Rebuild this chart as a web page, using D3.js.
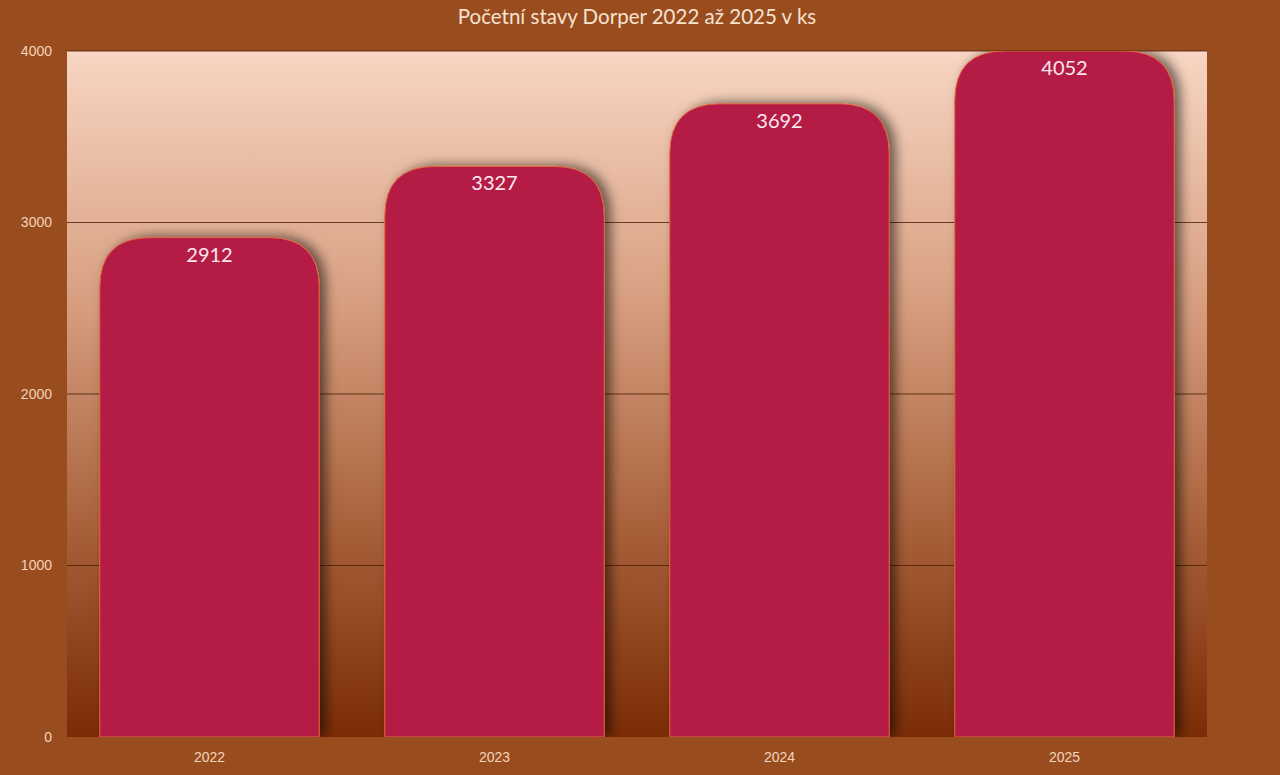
<!DOCTYPE html>
<html><head><meta charset="utf-8">
<script src="https://cdn.jsdelivr.net/npm/d3@7"></script>
<style>
html,body{margin:0;padding:0;background:#994d1f;}
svg{display:block;font-family:Lato,"Open Sans",sans-serif;}
</style></head>
<body>
<svg id="chart" width="1280" height="775"></svg>
<script>
const title = "Početní stavy Dorper 2022 až 2025 v ks";
const categories = ["2022","2023","2024","2025"];
const values = [2912,3327,3692,4052];
const yTicks = [0,1000,2000,3000,4000];
const yMax = 4000;

const W=1280,H=775;
const m={left:67,right:73,top:51,bottom:38};
const svg=d3.select("#chart");
const defs=svg.append("defs");
const grad=defs.append("linearGradient").attr("id","bg").attr("x1",0).attr("y1",0).attr("x2",0).attr("y2",1);
grad.append("stop").attr("offset","0%").attr("stop-color","#f8d6c3");
grad.append("stop").attr("offset","35%").attr("stop-color","#d9a183");
grad.append("stop").attr("offset","70%").attr("stop-color","#a8603a");
grad.append("stop").attr("offset","100%").attr("stop-color","#7a2c06");
const f=defs.append("filter").attr("id","sh").attr("x","-20%").attr("y","-20%").attr("width","140%").attr("height","140%");
f.append("feDropShadow").attr("dx",6).attr("dy",-1).attr("stdDeviation",6).attr("flood-color","#000").attr("flood-opacity",0.55);
defs.append("clipPath").attr("id","clip").append("rect")
  .attr("x",m.left).attr("y",m.top).attr("width",W-m.left-m.right).attr("height",H-m.top-m.bottom);

const x=d3.scaleBand().domain(categories).range([m.left,W-m.right]).paddingInner(0.23).paddingOuter(0.115);
const y=d3.scaleLinear().domain([0,yMax]).range([H-m.bottom,m.top]);

svg.append("rect").attr("x",m.left).attr("y",m.top).attr("width",W-m.left-m.right).attr("height",H-m.top-m.bottom).attr("fill","url(#bg)");

svg.append("g").selectAll("line").data(yTicks.filter(d=>d>0)).join("line")
  .attr("x1",m.left).attr("x2",W-m.right).attr("y1",d=>y(d)).attr("y2",d=>y(d))
  .attr("stroke","#4a1e08").attr("stroke-width",1).attr("opacity",0.8);

const yAxis=svg.append("g").attr("transform",`translate(${m.left-12},0)`)
  .call(d3.axisLeft(y).tickValues(yTicks).tickSize(0).tickFormat(d3.format("d")));
yAxis.select(".domain").remove();
yAxis.selectAll("text").attr("fill","#f3d3bd").attr("font-size",14).attr("dx",0);

const xAxis=svg.append("g").attr("transform",`translate(0,${H-m.bottom+12})`)
  .call(d3.axisBottom(x).tickSize(0));
xAxis.select(".domain").remove();
xAxis.selectAll("text").attr("fill","#f3d3bd").attr("font-size",14).attr("dy","0.71em");

const r=50;
function barPath(d,i){
  const x0=x(categories[i]), w=x.bandwidth();
  const top=y(Math.min(d,yMax)), bot=y(0);
  return `M${x0},${bot}L${x0},${top+r}Q${x0},${top} ${x0+r},${top}L${x0+w-r},${top}Q${x0+w},${top} ${x0+w},${top+r}L${x0+w},${bot}Z`;
}
const g=svg.append("g").attr("clip-path","url(#clip)");
g.selectAll("path").data(values).join("path")
  .attr("d",barPath).attr("fill","#b41f45").attr("stroke","#e2683c").attr("stroke-width",1)
  .attr("filter","url(#sh)");

svg.append("g").selectAll("text").data(values).join("text")
  .attr("x",(d,i)=>x(categories[i])+x.bandwidth()/2)
  .attr("y",d=>y(Math.min(d,yMax))+24)
  .attr("text-anchor","middle").attr("fill","#fbe8ee").attr("font-size",20)
  .text(d=>d);

svg.append("text").attr("x",637).attr("y",24).attr("text-anchor","middle")
  .attr("fill","#f6e2cf").attr("font-size",20.5).text(title);
</script>
</body></html>
